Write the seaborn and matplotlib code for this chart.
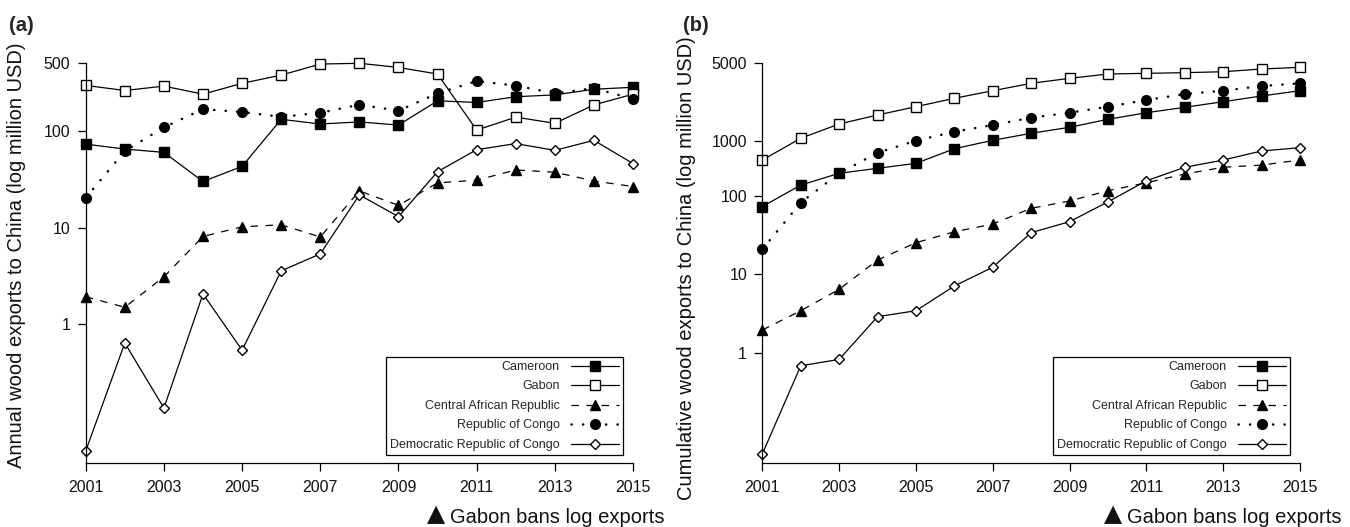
#!/usr/bin/env python3
import matplotlib
matplotlib.use('Agg')
import matplotlib.pyplot as plt
import seaborn as sns
import pandas as pd

# years on the x axis
years = [2001, 2002, 2003, 2004, 2005, 2006, 2007, 2008,
         2009, 2010, 2011, 2012, 2013, 2014, 2015]

countries = ["Cameroon", "Gabon", "Central African Republic",
             "Republic of Congo", "Democratic Republic of Congo"]

# (a) annual wood exports to China, million USD
cameroon_annual = [73, 65, 60, 30, 43, 132, 118, 124, 115, 205, 197, 226, 236, 270, 283]
gabon_annual = [296, 262, 291, 240, 311, 378, 492, 501, 454, 388, 102, 139, 120, 186, 240]
car_annual = [1.93, 1.50, 3.1, 8.1, 10.2, 10.7, 8.0, 24, 17, 29, 31, 39.5, 37.4, 30.4, 26.6]
roc_annual = [20.3, 62, 109, 168, 157, 140, 154, 187, 162, 245, 328, 294, 245, 277, 214]
drc_annual = [0.049, 0.64, 0.136, 2.06, 0.54, 3.57, 5.35, 21.8, 13.0, 37.9, 64, 74, 63, 80, 46]

# (b) cumulative wood exports to China, million USD
cameroon_cum = [74, 139, 197, 228, 264, 406, 520, 640, 763, 966, 1172, 1374, 1622, 1918, 2241]
gabon_cum = [291, 552, 841, 1096, 1400, 1792, 2240, 2786, 3228, 3664, 3740, 3810, 3920, 4245, 4463]
car_cum = [1.95, 3.44, 6.47, 15.3, 25.5, 35.2, 44.2, 70.3, 87, 118, 149, 193, 235, 251, 291]
roc_cum = [21, 83, 197, 361, 514, 670, 816, 1011, 1172, 1400, 1703, 2032, 2241, 2572, 2786]
drc_cum = [0.0507, 0.68, 0.82, 2.89, 3.44, 7.13, 12.4, 34.3, 47.4, 85, 158, 235, 291, 380, 419]

# axis ticks as printed on the figure
ticks_a = [1, 10, 100, 500]
ticklabels_a = ["1", "10", "100", "500"]
ticks_b = [1, 10, 100, 515, 5000]
ticklabels_b = ["1", "10", "100", "1000", "5000"]
xticks = [2001, 2003, 2005, 2007, 2009, 2011, 2013, 2015]


def long_frame(series):
    rows = []
    for country, vals in zip(countries, series):
        for y, v in zip(years, vals):
            rows.append({"year": y, "country": country, "value": v})
    return pd.DataFrame(rows)


df_a = long_frame([cameroon_annual, gabon_annual, car_annual, roc_annual, drc_annual])
df_b = long_frame([cameroon_cum, gabon_cum, car_cum, roc_cum, drc_cum])

STYLE = {
    "Cameroon": dict(marker="s", markerfacecolor="black", markersize=6.5, linestyle="-", linewidth=0.9),
    "Gabon": dict(marker="s", markerfacecolor="white", markersize=6.5, linestyle="-", linewidth=0.9),
    "Central African Republic": dict(marker="^", markerfacecolor="black", markersize=7,
                                     linestyle=(0, (6, 6)), linewidth=0.9),
    "Republic of Congo": dict(marker="o", markerfacecolor="black", markersize=7,
                              linestyle=(0, (0.1, 4.5)), linewidth=1.8, dash_capstyle="round"),
    "Democratic Republic of Congo": dict(marker="D", markerfacecolor="white", markersize=4.6,
                                         linestyle="-", linewidth=0.9),
}

sns.set_theme(style="ticks")
plt.rcParams['font.family'] = ['Liberation Sans', 'DejaVu Sans']

fig = plt.figure(figsize=(13.5, 5.27), dpi=100)
ax_a = fig.add_axes([0.0635, 0.1209, 0.4054, 0.788])
ax_b = fig.add_axes([0.5647, 0.1209, 0.3983, 0.788])


def draw_panel(ax, data, ylim, ticks, ticklabels, ylabel, label_xy):
    ax.set_yscale("log")
    for country in countries:
        sub = data[data.country == country]
        sns.lineplot(data=sub, x="year", y="value", ax=ax, color="black",
                     markeredgecolor="black", markeredgewidth=1.0,
                     errorbar=None, legend=False, label=country,
                     clip_on=False, **STYLE[country])
    ax.set_xlim(2001, 2015)
    ax.set_ylim(*ylim)
    ax.set_xticks(xticks)
    ax.set_xticklabels([str(t) for t in xticks])
    ax.set_yticks(ticks)
    ax.set_yticklabels(ticklabels)
    ax.minorticks_off()
    ax.tick_params(axis="both", direction="out", length=6, width=0.9,
                   color="black", labelsize=11.5, labelcolor="#111111", pad=5)
    ax.tick_params(axis="x", pad=6)
    for side in ["top", "right"]:
        ax.spines[side].set_visible(False)
    for side in ["left", "bottom"]:
        ax.spines[side].set_color("black")
        ax.spines[side].set_linewidth(0.9)
    ax.spines["left"].set_bounds(ylim[0], ticks[-1])
    ax.set_xlabel("")
    ax.set_ylabel(ylabel, fontsize=14.5, color="#111111")
    ax.yaxis.set_label_coords(*label_xy)
    ax.grid(False)

    leg = ax.legend(loc="lower right", bbox_to_anchor=(0.982, 0.02), borderaxespad=0,
                    markerfirst=False, handlelength=3.85, handletextpad=0.9,
                    labelspacing=0.6, borderpad=0.32, fancybox=False, framealpha=1,
                    edgecolor="black", prop={"size": 9})
    leg.get_frame().set_linewidth(0.9)


draw_panel(ax_a, df_a, (0.0365, 721), ticks_a, ticklabels_a,
           "Annual wood exports to China (log million USD)", (-0.11, 0.5))
draw_panel(ax_b, df_b, (0.0385, 7880), ticks_b, ticklabels_b,
           "Cumulative wood exports to China (log million USD)", (-0.124, 0.47))

fig.text(0.0067, 0.952, "(a)", fontsize=14.5, fontweight="bold", va="center", ha="left")
fig.text(0.506, 0.952, "(b)", fontsize=14.5, fontweight="bold", va="center", ha="left")

for x0 in [427, 1104]:
    fig.text(x0 / 1350, 0.012, "\u25B2", fontsize=17, va="baseline", ha="left",
             color="#111111", family=["DejaVu Sans"])
    fig.text((x0 + 23) / 1350, 0.008, "Gabon bans log exports", fontsize=14.5,
             va="baseline", ha="left", color="#111111")

fig.savefig("out.png", dpi=100)
